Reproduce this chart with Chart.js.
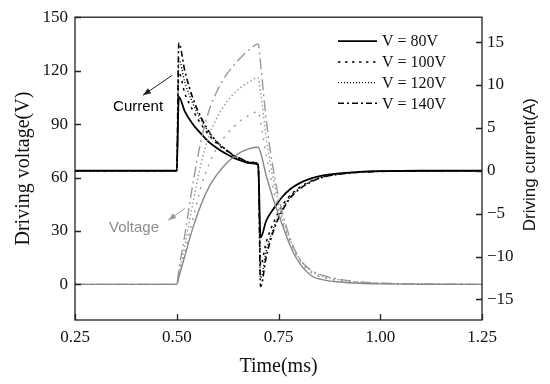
<!DOCTYPE html>
<html><head><meta charset="utf-8">
<script src="https://cdn.jsdelivr.net/npm/chart.js@4"></script>
<style>html,body{margin:0;padding:0;background:#fff;} canvas{display:block;}</style>
</head><body>
<canvas id="c" width="550" height="384"></canvas>
<script>
// ---- data (time in ms) ----
const timeMs = [0.25, 0.5, 0.505, 0.52, 0.54, 0.56, 0.58, 0.60, 0.62, 0.64, 0.66, 0.68, 0.70, 0.706, 0.72, 0.74, 0.76, 0.78, 0.80, 0.83, 0.86, 0.90, 0.95, 1.00, 1.10, 1.25];

// driving voltage (V)
const voltage80  = [0, 0, 4, 16, 32, 45, 55, 62, 67.5, 71.5, 74.5, 76.3, 77, 74, 61, 46, 33, 21, 12.5, 5, 2.5, 1.3, 0.6, 0.3, 0.1, 0];
const voltage100 = [0, 0, 5, 18, 37, 55, 68, 77, 83.5, 88.5, 92.5, 95.2, 97, 91, 72, 51, 35, 22.5, 14, 6.5, 3.8, 2, 1, 0.5, 0.15, 0];
const voltage120 = [0, 0, 6, 22, 46, 68, 84, 94, 101.5, 107, 111, 114, 116, 108, 82, 56, 37, 24, 15, 7.5, 4.5, 2.5, 1.2, 0.6, 0.2, 0];
const voltage140 = [0, 0, 8, 28, 57, 81, 98, 109, 117, 123, 128, 132, 135, 124, 92, 61, 40, 25, 15, 8, 5, 2.8, 1.4, 0.7, 0.2, 0];

// driving current (A)
const current80  = [0, 0, 8.6, 6.9, 5.4, 4.3, 3.3, 2.6, 2.0, 1.5, 1.15, 0.9, 0.7, -7.8, -5.8, -4.3, -3.0, -2.1, -1.5, -0.9, -0.55, -0.3, -0.12, -0.05, 0, 0];
const current100 = [0, 0, 11.5, 9.0, 7.0, 5.4, 4.1, 3.1, 2.4, 1.75, 1.3, 0.95, 0.75, -11.0, -8.3, -5.8, -4.0, -2.8, -2.0, -1.2, -0.7, -0.35, -0.15, -0.07, -0.02, 0];
const current120 = [0, 0, 13.0, 10.3, 7.8, 5.9, 4.4, 3.3, 2.5, 1.8, 1.35, 1.0, 0.8, -12.5, -9.3, -6.4, -4.4, -3.0, -2.1, -1.25, -0.72, -0.38, -0.17, -0.08, -0.02, 0];
const current140 = [0, 0, 14.9, 11.6, 8.4, 6.2, 4.5, 3.3, 2.5, 1.8, 1.35, 1.0, 0.8, -13.5, -10.0, -6.7, -4.6, -3.1, -2.2, -1.3, -0.75, -0.4, -0.18, -0.08, -0.02, 0];

const seriesLabels = ['V = 80V', 'V = 100V', 'V = 120V', 'V = 140V'];
const xTicks = [0.25, 0.50, 0.75, 1.00, 1.25];
const voltageTicks = [0, 30, 60, 90, 120, 150];
const currentTicks = [-15, -10, -5, 0, 5, 10, 15];

// ---- styles ----
const curDash = [[], [2.5, 4.5], [1, 2], [6, 3, 2, 3]];
const curWidth = [1.8, 1.5, 1.4, 1.6];
const volDash = [[], [2, 6], [1.5, 2.5], [11, 4, 2, 4]];
const volColor = ['#888888', '#9a9a9a', '#9a9a9a', '#9a9a9a'];

const pts = arr => arr.map((v, i) => ({x: timeMs[i], y: v}));
const voltages = [voltage80, voltage100, voltage120, voltage140];
const currents = [current80, current100, current120, current140];

const datasets = [];
voltages.forEach((arr, i) => datasets.push({
  label: 'Voltage ' + seriesLabels[i], data: pts(arr), yAxisID: 'y',
  borderColor: volColor[i], borderWidth: 1.4, borderDash: volDash[i],
  pointRadius: 0, fill: false, cubicInterpolationMode: 'monotone'
}));
currents.forEach((arr, i) => datasets.push({
  label: seriesLabels[i], data: pts(arr), yAxisID: 'y1',
  borderColor: '#000', borderWidth: curWidth[i], borderDash: curDash[i],
  pointRadius: 0, fill: false, cubicInterpolationMode: 'monotone'
}));

function arrow(ctx, x1, y1, x2, y2, color) {
  ctx.strokeStyle = color; ctx.fillStyle = color; ctx.lineWidth = 1;
  ctx.setLineDash([]);
  ctx.beginPath(); ctx.moveTo(x1, y1); ctx.lineTo(x2, y2); ctx.stroke();
  const ang = Math.atan2(y2 - y1, x2 - x1), L = 8, W = 3;
  ctx.beginPath();
  ctx.moveTo(x2, y2);
  ctx.lineTo(x2 - L * Math.cos(ang) + W * Math.sin(ang), y2 - L * Math.sin(ang) - W * Math.cos(ang));
  ctx.lineTo(x2 - L * Math.cos(ang) - W * Math.sin(ang), y2 - L * Math.sin(ang) + W * Math.cos(ang));
  ctx.closePath(); ctx.fill();
}

const decor = {
  id: 'decor',
  afterDraw(chart) {
    const {ctx, chartArea: a, scales: {x, y, y1}} = chart;
    ctx.save();
    // frame
    ctx.strokeStyle = '#222'; ctx.lineWidth = 1.3; ctx.setLineDash([]);
    ctx.strokeRect(a.left, a.top, a.right - a.left, a.bottom - a.top);
    // inward ticks
    ctx.beginPath();
    xTicks.forEach(v => { const p = Math.round(x.getPixelForValue(v)) + 0.5; ctx.moveTo(p, a.bottom); ctx.lineTo(p, a.bottom - 6); });
    voltageTicks.forEach(v => { const p = Math.round(y.getPixelForValue(v)) + 0.5; ctx.moveTo(a.left, p); ctx.lineTo(a.left + 6, p); });
    currentTicks.forEach(v => { const p = Math.round(y1.getPixelForValue(v)) + 0.5; ctx.moveTo(a.right, p); ctx.lineTo(a.right - 6, p); });
    ctx.stroke();

    // right axis title (reads bottom-to-top)
    ctx.save();
    ctx.translate(530, (a.top + a.bottom) / 2 - 4);
    ctx.rotate(-Math.PI / 2);
    ctx.fillStyle = '#111';
    ctx.font = '17px "Liberation Sans", Arial, sans-serif';
    ctx.textAlign = 'center'; ctx.textBaseline = 'middle';
    ctx.fillText('Driving current(A)', 0, 0);
    ctx.restore();

    // legend
    const lx0 = a.right - 144, lx1 = a.right - 105, tx = a.right - 100;
    ctx.font = '16px "Liberation Serif", "Times New Roman", serif';
    ctx.textAlign = 'left'; ctx.textBaseline = 'middle';
    seriesLabels.forEach((lab, i) => {
      const yy = a.top + 24 + i * 20.7;
      ctx.strokeStyle = '#000'; ctx.lineWidth = curWidth[i]; ctx.setLineDash(curDash[i]);
      ctx.beginPath(); ctx.moveTo(lx0, yy); ctx.lineTo(lx1, yy); ctx.stroke();
      ctx.setLineDash([]);
      ctx.fillStyle = '#111';
      ctx.fillText(lab, tx, yy + 1);
    });

    // annotations
    ctx.font = '15px "Liberation Sans", Arial, sans-serif';
    ctx.textAlign = 'center'; ctx.textBaseline = 'middle';
    ctx.fillStyle = '#000';
    ctx.fillText('Current', x.getPixelForValue(0.405), y1.getPixelForValue(7.4));
    arrow(ctx, x.getPixelForValue(0.488), y1.getPixelForValue(11.1), x.getPixelForValue(0.417), y1.getPixelForValue(8.8), '#222');
    ctx.fillStyle = '#8c8c8c';
    ctx.fillText('Voltage', x.getPixelForValue(0.395), y.getPixelForValue(32));
    arrow(ctx, x.getPixelForValue(0.520), y.getPixelForValue(42.7), x.getPixelForValue(0.479), y.getPixelForValue(36), '#9a9a9a');
    ctx.restore();
  }
};

const serifTick = {family: 'Liberation Serif', size: 17};
new Chart(document.getElementById('c').getContext('2d'), {
  type: 'line',
  data: {datasets},
  options: {
    responsive: false, animation: false, devicePixelRatio: 1,
    layout: {padding: {top: 17, left: 0, right: 0, bottom: 0}},
    plugins: {legend: {display: false}, tooltip: {enabled: false}},
    scales: {
      x: {
        type: 'linear', min: 0.25, max: 1.25,
        afterBuildTicks: s => { s.ticks = xTicks.map(v => ({value: v})); },
        afterFit: s => { s.height = 64; },
        ticks: {callback: v => Number(v).toFixed(2), font: serifTick, color: '#111', padding: 7, maxRotation: 0, autoSkip: false},
        grid: {display: false, drawTicks: false}, border: {display: false},
        title: {display: true, text: 'Time(ms)', font: {family: 'Liberation Serif', size: 20}, color: '#111', padding: {top: 0, bottom: 5}}
      },
      y: {
        type: 'linear', position: 'left', min: -20, max: 150,
        afterBuildTicks: s => { s.ticks = voltageTicks.map(v => ({value: v})); },
        afterFit: s => { s.width = 75; },
        ticks: {font: serifTick, color: '#111', padding: 7, autoSkip: false},
        grid: {display: false, drawTicks: false}, border: {display: false},
        title: {display: true, text: 'Driving voltage(V)', font: {family: 'Liberation Serif', size: 20}, color: '#111', padding: {top: 12, bottom: 0}}
      },
      y1: {
        type: 'linear', position: 'right', min: -17.4, max: 17.9,
        afterBuildTicks: s => { s.ticks = currentTicks.map(v => ({value: v})); },
        afterFit: s => { s.width = 68; },
        ticks: {font: serifTick, color: '#111', padding: 5, autoSkip: false,
          callback: v => v < 0 ? '\u2212' + Math.abs(v) : String(v)},
        grid: {display: false, drawTicks: false}, border: {display: false}
      }
    }
  },
  plugins: [decor]
});
</script>
</body></html>
